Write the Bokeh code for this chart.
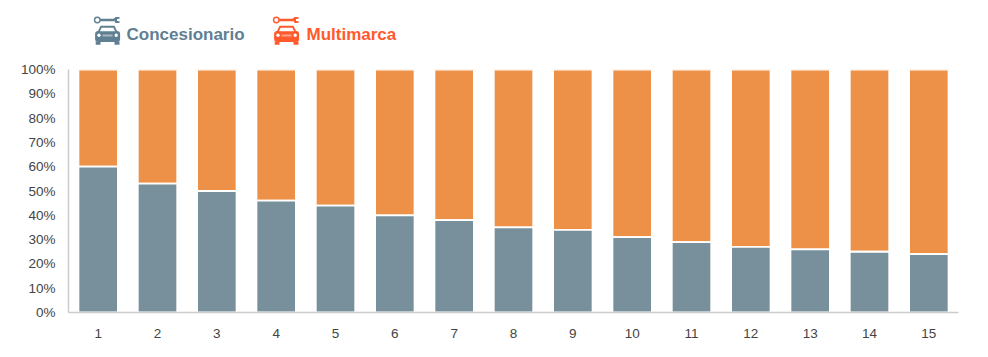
from bokeh.plotting import figure
from bokeh.layouts import column
from bokeh.models import Range1d, FixedTicker, PrintfTickFormatter
from bokeh.embed import file_html
from bokeh.resources import INLINE
from bokeh.core.properties import value

categories = list(range(1, 16))
concesionario = [60, 53, 50, 46, 44, 40, 38, 35, 34, 31, 29, 27, 26, 25, 24]
multimarca = [40, 47, 50, 54, 56, 60, 62, 65, 66, 69, 71, 73, 74, 75, 76]
y_ticks = [0, 10, 20, 30, 40, 50, 60, 70, 80, 90, 100]
legend_names = ["Concesionario", "Multimarca"]
legend_colors = ["#5f7f93", "#ff5a2c"]
GREY = "#78909c"
ORANGE = "#ee9148"
TXT = "#444444"

W = 972
L, R = 68, 958
HEAD_H = 58
head = figure(width=W, height=HEAD_H, output_backend="svg", toolbar_location=None,
              x_range=Range1d(L, R), y_range=Range1d(HEAD_H, 0),
              min_border_left=L, min_border_right=W - R, min_border_top=0, min_border_bottom=0,
              outline_line_color=None)
head.axis.visible = False
head.grid.visible = False


def icon(x0, c):
    # wrench: ring, shaft, open fork
    head.line([x0 + 4, x0 + 20], [19.5, 19.5], line_color=c, line_width=2.4)
    head.scatter([x0 + 2.8], [19.5], size=5.5, fill_color="white", line_color=c, line_width=1.4)
    head.patch([x0 + 19, x0 + 21, x0 + 25, x0 + 25, x0 + 22.5, x0 + 22.5, x0 + 25, x0 + 25, x0 + 21],
               [18.4, 16.6, 16.6, 18.2, 18.6, 20.4, 20.8, 22.4, 22.4],
               fill_color=c, line_color=None)
    # car body
    head.quad(left=[x0 + 0.6], right=[x0 + 25.6], top=[30.5], bottom=[41.5], fill_color=c, line_color=None,
              border_radius=3)
    head.patch([x0 + 3, x0 + 6, x0 + 20, x0 + 23], [31.5, 25.2, 25.2, 31.5], fill_color=c, line_color=None)
    head.patch([x0 + 5.4, x0 + 7.2, x0 + 18.8, x0 + 20.6], [30.8, 27.2, 27.2, 30.8], fill_color="white",
               line_color=None)
    head.quad(left=[x0 + 1.2, x0 + 20], right=[x0 + 6, x0 + 25], top=[41, 41], bottom=[44.2, 44.2],
              fill_color=c, line_color=None)
    head.scatter([x0 + 4.5, x0 + 21.7], [34.8, 34.8], size=3.4, fill_color="white", line_color=None)
    head.quad(left=[x0 + 8], right=[x0 + 18], top=[34], bottom=[36], fill_color="white", fill_alpha=0.45,
              line_color=None)


for x0, c in zip([94, 273], legend_colors):
    icon(x0, c)

head.text([126, 306], [33.5, 33.5], text=legend_names, text_color=legend_colors,
          text_font=value("Liberation Sans"), text_font_style="bold", text_font_size="17px",
          text_baseline="middle", text_align="left")

p = figure(width=W, height=287, output_backend="svg", toolbar_location=None,
           x_range=Range1d(0.5, 15.5), y_range=Range1d(0, 100),
           min_border_left=L, min_border_right=W - R, min_border_top=11, min_border_bottom=33,
           outline_line_color=None)
p.grid.visible = False
tops = [a + b for a, b in zip(concesionario, multimarca)]
p.vbar(x=categories, width=0.665, bottom=concesionario, top=tops, fill_color=ORANGE,
       line_color="white", line_width=1.8)
p.vbar(x=categories, width=0.665, bottom=0, top=concesionario, fill_color=GREY,
       line_color="white", line_width=1.8)

p.xaxis.ticker = FixedTicker(ticks=categories)
p.yaxis.ticker = FixedTicker(ticks=y_ticks)
p.yaxis.formatter = PrintfTickFormatter(format="%d%%")
for ax in (p.xaxis[0], p.yaxis[0]):
    ax.axis_line_color = "#cccccc"
    ax.axis_line_width = 1.5
    ax.major_tick_line_color = None
    ax.minor_tick_line_color = None
    ax.major_label_text_color = TXT
    ax.major_label_text_font = "Liberation Sans"
    ax.major_label_text_font_size = "13.5px"
p.xaxis.major_label_standoff = 10
p.yaxis.major_label_standoff = 7

open("out.html", "w").write(file_html(column(head, p, spacing=0), INLINE))
